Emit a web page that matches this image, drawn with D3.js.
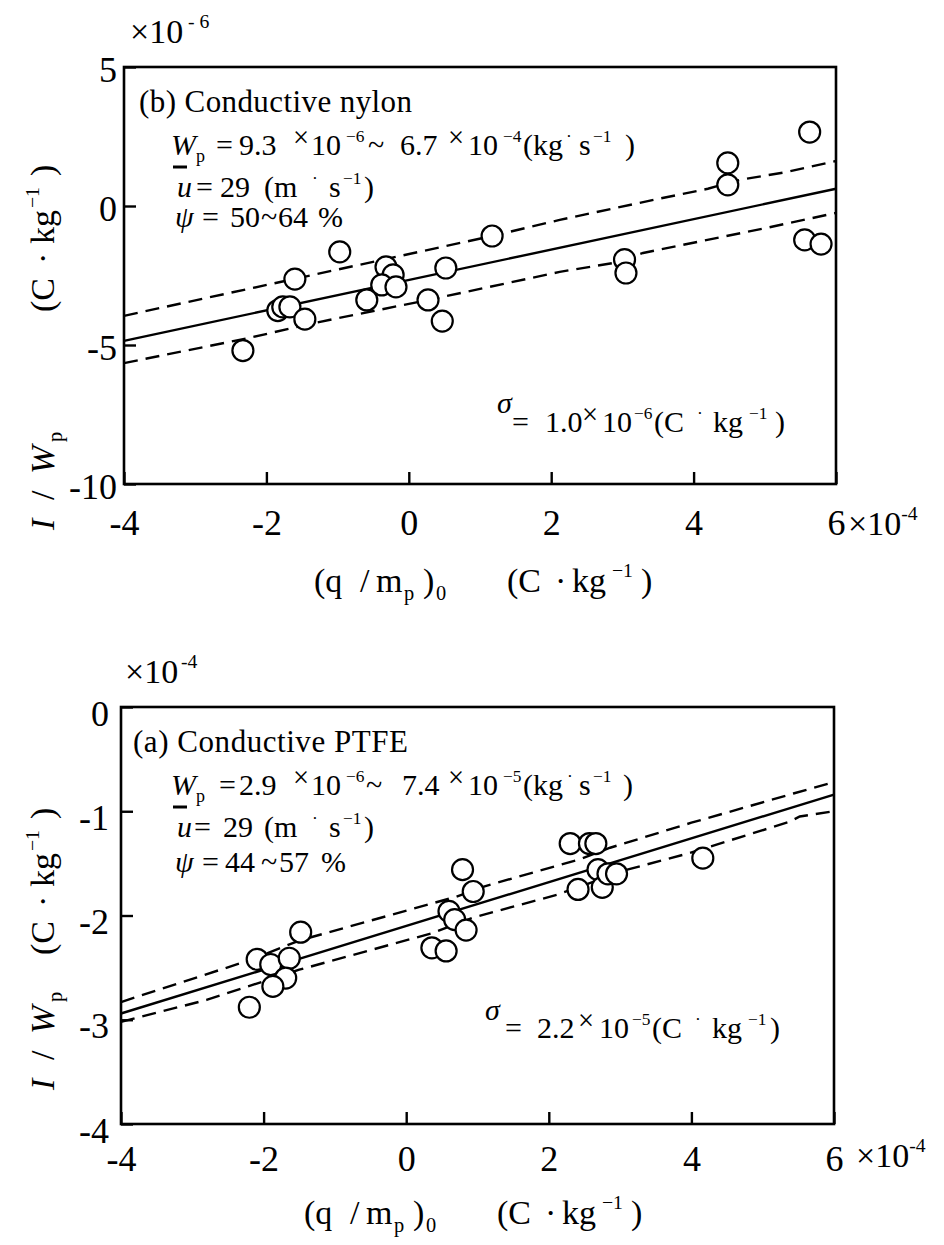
<!DOCTYPE html>
<html><head><meta charset="utf-8">
<script src="https://cdn.jsdelivr.net/npm/d3@7"></script>
<style>
body{margin:0;background:#fff}
svg text, svg tspan{fill:#000;font-family:"Liberation Serif","Times New Roman",Times,serif}
</style></head><body>
<svg id="chart" width="944" height="1245" xmlns="http://www.w3.org/2000/svg"></svg>
<script>
// ---------------- data ----------------
const xTicks = [-4, -2, 0, 2, 4, 6];
const nylonYTicks = [5, 0, -5, -10];
const ptfeYTicks = [0, -1, -2, -3, -4];

// (b) Conductive nylon, x in 1e-4 C/kg, y in 1e-6 C/kg
const nylonX = [-2.33, -1.84, -1.77, -1.67, -1.46, -1.60, -0.97, -0.59, -0.32, -0.22, -0.38, -0.18, 0.27, 0.47, 0.52, 1.17, 3.03, 3.05, 4.48, 4.48, 5.56, 5.79, 5.63];
const nylonY = [-5.20, -3.76, -3.63, -3.63, -4.07, -2.63, -1.65, -3.38, -2.19, -2.48, -2.84, -2.91, -3.38, -4.14, -2.23, -1.08, -1.93, -2.41, 1.55, 0.76, -1.22, -1.37, 2.66];
const nylonFitX = [-4, 6];
const nylonFitY = [-4.85, 0.62];
const nylonUpperX = [-4, -1.6, 1.17, 2.12, 3.53, 4.2, 4.65, 5.3, 6];
const nylonUpperY = [-3.95, -2.62, -1.08, -0.5, 0.27, 0.62, 0.94, 1.22, 1.62];
const nylonLowerX = [-4, -2.25, -1.33, 0.27, 2.12, 2.87, 3.29, 5.0, 5.4, 6];
const nylonLowerY = [-5.65, -4.75, -4.21, -3.38, -2.37, -2.05, -1.69, -0.80, -0.58, -0.25];

// (a) Conductive PTFE, x in 1e-4 C/kg, y in 1e-4 C/kg
const ptfeX = [-2.09, -1.90, -1.64, -1.48, -1.69, -1.87, -2.20, 0.79, 0.94, 0.60, 0.68, 0.84, 0.36, 0.56, 2.30, 2.57, 2.66, 2.41, 2.69, 2.75, 2.83, 2.95, 4.16];
const ptfeY = [-2.42, -2.47, -2.41, -2.16, -2.60, -2.68, -2.88, -1.56, -1.77, -1.96, -2.04, -2.14, -2.31, -2.34, -1.31, -1.31, -1.31, -1.75, -1.56, -1.73, -1.60, -1.60, -1.45];
const ptfeFitX = [-4, 6];
const ptfeFitY = [-2.94, -0.84];
const ptfeUpperX = [-4, -2.2, -1.5, 0.7, 1.1, 2.44, 2.86, 4.0, 5.43, 6];
const ptfeUpperY = [-2.83, -2.43, -2.24, -1.82, -1.72, -1.46, -1.35, -1.11, -0.83, -0.72];
const ptfeLowerX = [-4, -2.8, -1.5, 0.36, 0.94, 2.12, 3.10, 3.98, 5.38, 5.52, 6];
const ptfeLowerY = [-3.02, -2.81, -2.52, -2.17, -2.02, -1.80, -1.56, -1.40, -1.10, -1.05, -1.0];

// ---------------- helpers ----------------
const svg = d3.select("#chart");
svg.append("rect").attr("width", 944).attr("height", 1245).attr("fill", "#fff");

function rich(parent, x, y, size, parts) {
  const t = parent.append("text").attr("x", x).attr("y", y).attr("font-size", size);
  let cur = 0;
  parts.forEach(p => {
    const [s, st = "", px] = p;
    const tags = st.split(" ");
    let off = 0, fs = size;
    if (tags.includes("sub")) { off = size * 0.24; fs = size * 0.6; }
    if (tags.includes("sup")) { off = -size * 0.45; fs = size * 0.58; }
    if (tags.includes("rx")) { off = -size * 0.27; fs = size * 0.95; }
    const ts = t.append("tspan").attr("dy", off - cur).attr("font-size", fs).text(s);
    if (tags.includes("it")) ts.attr("font-style", "italic");
    if (px !== undefined) ts.attr("x", px);
    cur = off;
  });
  return t;
}

const zip = (a, b) => a.map((v, i) => [v, b[i]]);

function drawPanel(cfg) {
  const x = d3.scaleLinear().domain([-4, 6]).range([cfg.left, cfg.right]);
  const y = d3.scaleLinear().domain(cfg.yDomain).range([cfg.bottom, cfg.top]);
  const g = svg.append("g");

  const line = d3.line().x(d => x(d[0])).y(d => y(d[1]));
  g.append("path").datum(zip(cfg.fitX, cfg.fitY)).attr("d", line)
    .attr("fill", "none").attr("stroke", "#000").attr("stroke-width", 2.4);
  [zip(cfg.upX, cfg.upY), zip(cfg.loX, cfg.loY)].forEach(d => {
    g.append("path").datum(d).attr("d", line)
      .attr("fill", "none").attr("stroke", "#000").attr("stroke-width", 2.4)
      .attr("stroke-dasharray", "14,8");
  });

  g.selectAll("circle.pt").data(zip(cfg.px, cfg.py)).enter().append("circle")
    .attr("class", "pt")
    .attr("cx", d => x(d[0])).attr("cy", d => y(d[1])).attr("r", 10.5)
    .attr("fill", "#fff").attr("stroke", "#000").attr("stroke-width", 2.2);

  const fmt = d => (d < 0 ? "-" + Math.abs(d) : String(d));
  const xa = g.append("g").attr("transform", `translate(0,${cfg.bottom})`)
    .call(d3.axisBottom(x).tickValues(xTicks).tickSize(-12).tickPadding(cfg.xPad).tickFormat(fmt));
  const ya = g.append("g").attr("transform", `translate(${cfg.left},0)`)
    .call(d3.axisLeft(y).tickValues(cfg.yTicks).tickSize(-12).tickPadding(cfg.yPad).tickFormat(fmt));
  [xa, ya].forEach(a => {
    a.attr("font-size", 36).attr("font-family", null);
    a.select(".domain").remove();
    a.selectAll("line").attr("stroke", "#000").attr("stroke-width", 2.4);
    a.selectAll("text").attr("fill", "#000");
  });
  ya.selectAll("text").attr("dy", cfg.yDy);

  g.append("rect").attr("x", cfg.left).attr("y", cfg.top)
    .attr("width", cfg.right - cfg.left).attr("height", cfg.bottom - cfg.top)
    .attr("fill", "none").attr("stroke", "#000").attr("stroke-width", 2.6);
  return { x, y, g };
}

// ---------------- top panel (b) ----------------
const P1 = { left: 124, right: 836, top: 67, bottom: 484 };
drawPanel(Object.assign({}, P1, {
  yDomain: [-10, 5], yTicks: nylonYTicks, xPad: 25, yPad: 7, yDy: "0.4em",
  px: nylonX, py: nylonY, fitX: nylonFitX, fitY: nylonFitY,
  upX: nylonUpperX, upY: nylonUpperY, loX: nylonLowerX, loY: nylonLowerY
}));

// ---------------- bottom panel (a) ----------------
const P2 = { left: 121, right: 834, top: 707, bottom: 1124 };
drawPanel(Object.assign({}, P2, {
  yDomain: [-4, 0], yTicks: ptfeYTicks, xPad: 21, yPad: 12, yDy: "0.5em",
  px: ptfeX, py: ptfeY, fitX: ptfeFitX, fitY: ptfeFitY,
  upX: ptfeUpperX, upY: ptfeUpperY, loX: ptfeLowerX, loY: ptfeLowerY
}));

// ---------------- texts ----------------
// corner multipliers
rich(svg, 130, 43, 34, [["×10"], ["- 6", "sup", 188]]);
rich(svg, 125, 683, 34, [["×10"], ["-4", "sup", 181]]);
// x end multipliers
rich(svg, 848, 535, 34, [["×10"], ["-4", "sup"]]);
rich(svg, 856, 1167, 34, [["×10"], ["-4", "sup"]]);

// x-axis titles
function xTitle(dx, base) {
  rich(svg, 316 + dx, base, 34, [
    ["(q", "", 314 + dx], ["/", "", 360 + dx], ["m", "", 376 + dx], ["p", "sub", 404 + dx],
    [")", "", 423 + dx], ["0", "sub", 436 + dx],
    ["(C", "", 507 + dx], ["·", "", 555 + dx], ["kg", "", 572 + dx], ["−1", "sup", 612 + dx], [")", "", 641 + dx]
  ]);
}
xTitle(0, 592);
xTitle(-10, 1224);

// y-axis titles (rotated)
function yTitle(yStart, unitOffset) {
  const g = svg.append("g").attr("transform", `translate(54,${yStart}) rotate(-90)`);
  rich(g, 0, 0, 34, [["I", "it", 0], ["/", "", 30], ["W", "it", 56], ["p", "sub", 88]]);
  rich(g, unitOffset, 0, 34, [
    ["(C", "", unitOffset], ["·", "", unitOffset + 48], ["kg", "", unitOffset + 68],
    ["−1", "sup", unitOffset + 104], [")", "", unitOffset + 136]
  ]);
}
yTitle(530, 218);
yTitle(1090, 135);

// annotation blocks
function block(top, label, labelX, labelLen, wParts, uParts, psiParts, psiBase) {
  svg.append("text").attr("x", labelX).attr("y", top + 45).attr("font-size", 31)
    .attr("textLength", labelLen).attr("lengthAdjust", "spacing")
    .text(label);
  rich(svg, 171, top + 88, 30, wParts);
  // macron of u (drawn displaced as in the original)
  svg.append("line").attr("x1", 173).attr("x2", 187).attr("y1", top + 100).attr("y2", top + 100)
    .attr("stroke", "#000").attr("stroke-width", 3);
  rich(svg, 177, top + 130, 30, uParts);
  rich(svg, 175, top + psiBase, 30, psiParts);
}

block(67, "(b) Conductive nylon", 139, 273,
  [["W", "it", 171], ["p", "sub", 196], ["=", "", 216], ["9.3", "", 239], ["×", "rx", 293],
   ["10", "", 311], ["−6", "sup", 346], ["~", "", 368], ["6.7", "", 400], ["×", "rx", 448],
   ["10", "", 468], ["−4", "sup", 503], ["(kg", "", 523], ["·", "sup", 566], ["s", "", 579],
   ["−1", "sup", 593], [")", "", 625]],
  [["u", "it", 177], ["=", "", 196], ["29", "", 220], ["(m", "", 264], ["·", "sup", 312],
   ["s", "", 329], ["−1", "sup", 343], [")", "", 364]],
  [["ψ", "it", 175], ["=", "", 202], ["50", "", 230], ["~", "", 261], ["64", "", 278], ["%", "", 318]],
  160);

block(707, "(a) Conductive PTFE", 133, 275,
  [["W", "it", 171], ["p", "sub", 196], ["=", "", 219], ["2.9", "", 239], ["×", "rx", 293],
   ["10", "", 311], ["−6", "sup", 346], ["~", "", 366], ["7.4", "", 402], ["×", "rx", 448],
   ["10", "", 468], ["−5", "sup", 503], ["(kg", "", 523], ["·", "sup", 567], ["s", "", 579],
   ["−1", "sup", 593], [")", "", 623]],
  [["u", "it", 177], ["=", "", 194], ["29", "", 223], ["(m", "", 264], ["·", "sup", 312],
   ["s", "", 329], ["−1", "sup", 343], [")", "", 364]],
  [["ψ", "it", 175], ["=", "", 202], ["44", "", 225], ["~", "", 261], ["57", "", 279], ["%", "", 321]],
  165);

// sigma notes
rich(svg, 497, 413, 30, [["σ", "it"]]);
rich(svg, 512, 432, 30, [["=", "", 512], ["1.0", "", 545], ["×", "rx", 582], ["10", "", 602],
  ["−6", "sup", 634], ["(C", "", 654], ["·", "sup", 697], ["kg", "", 713], ["−1", "sup", 749], [")", "", 775]]);
rich(svg, 485, 1020, 30, [["σ", "it"]]);
rich(svg, 505, 1038, 30, [["=", "", 505], ["2.2", "", 537], ["×", "rx", 578], ["10", "", 599],
  ["−5", "sup", 632], ["(C", "", 652], ["·", "sup", 695], ["kg", "", 712], ["−1", "sup", 748], [")", "", 770]]);
</script>
</body></html>
